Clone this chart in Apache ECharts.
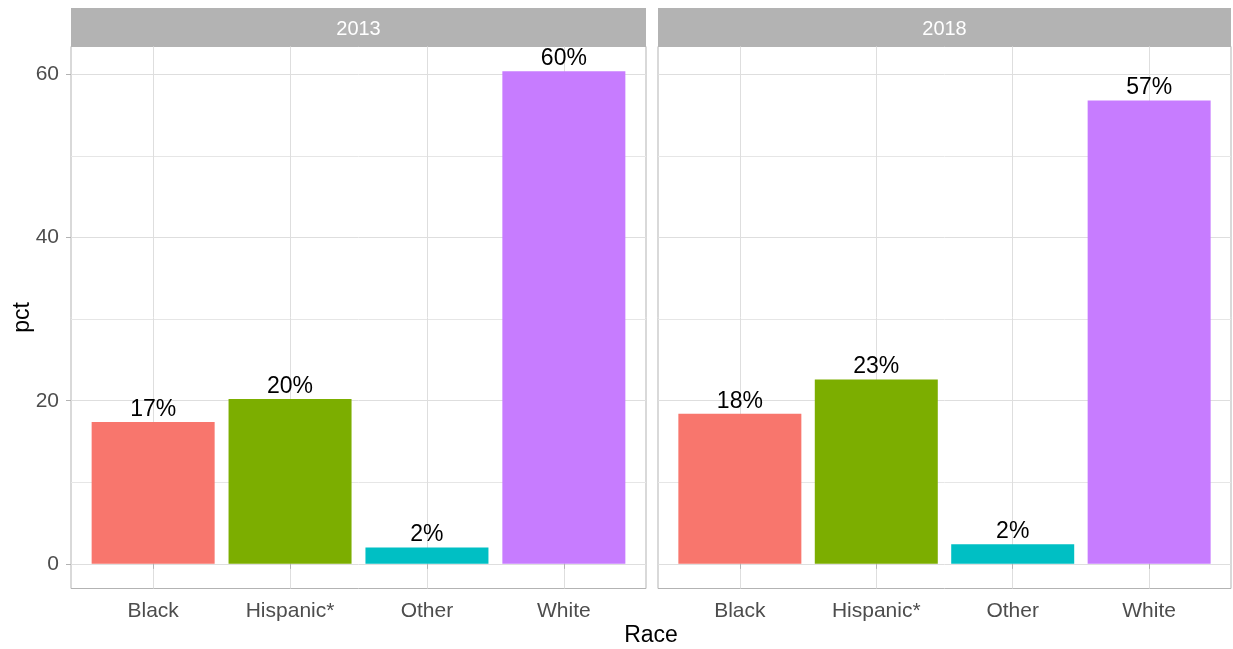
<!DOCTYPE html>
<html>
<head>
<meta charset="utf-8">
<script src="https://cdn.jsdelivr.net/npm/echarts@6/dist/echarts.min.js"></script>
<style>
  html, body { margin: 0; padding: 0; background: #fff; }
  #chart { width: 1233px; height: 649px; }
</style>
</head>
<body>
<div id="chart"></div>
<script>
const races = ['Black', 'Hispanic*', 'Other', 'White']
const years = ['2013', '2018']
const pct2013 = [17.4, 20.2, 2.0, 60.4]
const pct2018 = [18.4, 22.6, 2.4, 56.8]
const yTicks = [0, 20, 40, 60]
const yMinor = [10, 30, 50]
const colors = ['#F8766D', '#7CAE00', '#00BFC4', '#C77CFF']

const font = 'Liberation Sans, Arial, sans-serif'
const panels = [
  { left: 71, width: 575 },
  { left: 658, width: 573 }
]
const panelTop = 46.5
const panelBottom = 588.5

// ggplot style expansion: 5% on continuous, 0.6 on discrete
const allVals = pct2013.concat(pct2018)
const yMax = Math.max(...allVals)
const yMin = Math.min(0, ...allVals)
const pad = (yMax - yMin) * 0.05
const xPos = races.map((r, i) => i + 1)

const chart = echarts.init(document.getElementById('chart'))

const grids = panels.map(p => ({
  left: p.left,
  width: p.width,
  top: panelTop,
  height: panelBottom - panelTop,
  show: true,
  borderColor: '#b3b3b3',
  borderWidth: 1,
  backgroundColor: 'transparent'
}))

const xAxes = panels.map((p, gi) => ({
  type: 'value',
  gridIndex: gi,
  min: 0.4,
  max: races.length + 0.6,
  axisLine: { show: false },
  axisTick: { show: true, customValues: xPos, length: 5, lineStyle: { color: '#b3b3b3' } },
  axisLabel: {
    customValues: xPos,
    formatter: v => races[Math.round(v) - 1] || '',
    color: '#4d4d4d',
    fontSize: 21,
    fontFamily: font,
    margin: 12
  },
  splitLine: { show: true, lineStyle: { color: '#dedede', width: 1 } }
}))

// main y axes (labels, ticks, major grid) + hidden ones for minor grid
const yAxes = []
panels.forEach((p, gi) => {
  yAxes.push({
    type: 'value',
    gridIndex: gi,
    min: yMin - pad,
    max: yMax + pad,
    name: gi === 0 ? 'pct' : '',
    nameLocation: 'middle',
    nameGap: 37,
    nameMoveOverlap: false,
    nameTextStyle: { color: '#000', fontSize: 23, fontFamily: font },
    axisLine: { show: false },
    axisTick: { show: gi === 0, customValues: yTicks, length: 5, lineStyle: { color: '#b3b3b3' } },
    axisLabel: {
      show: gi === 0,
      customValues: yTicks,
      color: '#4d4d4d',
      fontSize: 21,
      fontFamily: font,
      margin: 12
    },
    splitLine: { show: true, lineStyle: { color: '#dedede', width: 1 } }
  })
})
panels.forEach((p, gi) => {
  yAxes.push({
    type: 'value',
    gridIndex: gi,
    position: 'left',
    min: yMin - pad,
    max: yMax + pad,
    axisLine: { show: false },
    axisTick: { show: false, customValues: yMinor },
    axisLabel: { show: false, customValues: yMinor },
    splitLine: { show: true, lineStyle: { color: '#e6e6e6', width: 1 } }
  })
})

const series = [pct2013, pct2018].map((vals, gi) => ({
  type: 'bar',
  xAxisIndex: gi,
  yAxisIndex: gi,
  barWidth: 123,
  data: vals.map((v, i) => ({ value: [xPos[i], v], itemStyle: { color: colors[i] } })),
  label: {
    show: true,
    position: 'top',
    distance: 1,
    formatter: p => Math.round(p.value[1]) + '%',
    color: '#000',
    fontSize: 23,
    fontFamily: font
  }
}))

const strips = panels.map((p, gi) => ({
  type: 'group',
  children: [
    {
      type: 'rect',
      shape: { x: p.left, y: 8, width: p.width, height: panelTop - 8 },
      style: { fill: '#b3b3b3' }
    },
    {
      type: 'text',
      x: p.left + p.width / 2,
      y: 29,
      style: {
        text: years[gi],
        fill: '#fff',
        font: '20px ' + font,
        textAlign: 'center',
        textVerticalAlign: 'middle'
      }
    }
  ]
}))

const option = {
  animation: false,
  grid: grids,
  xAxis: xAxes,
  yAxis: yAxes,
  series: series,
  graphic: strips.concat([
    {
      type: 'text',
      x: (panels[0].left + panels[1].left + panels[1].width) / 2,
      y: 636,
      style: {
        text: 'Race',
        fill: '#000',
        font: '23px ' + font,
        textAlign: 'center',
        textVerticalAlign: 'middle'
      }
    }
  ])
}

chart.setOption(option)
</script>
</body>
</html>
